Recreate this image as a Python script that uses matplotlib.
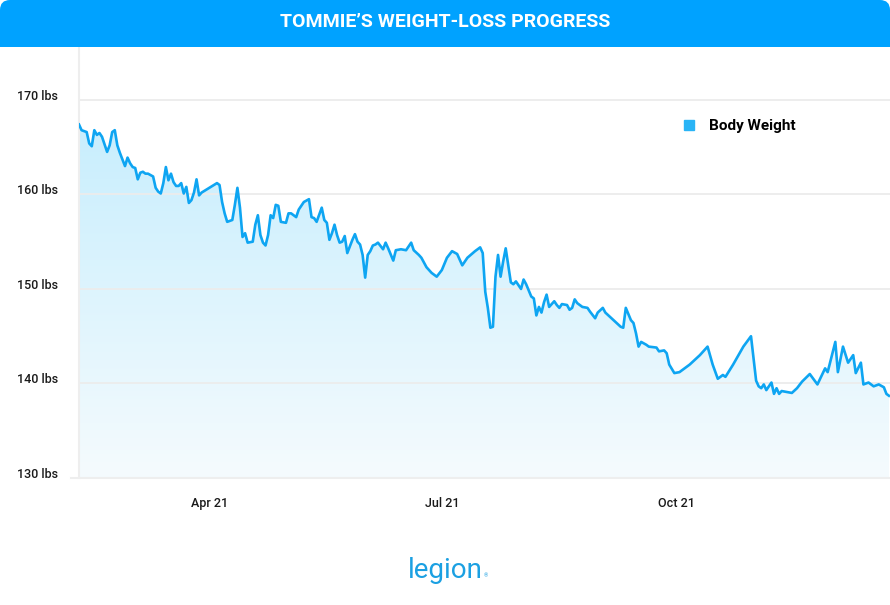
import datetime as dt
import numpy as np
import matplotlib
matplotlib.use("Agg")
import matplotlib.pyplot as plt
import matplotlib.dates as mdates
from matplotlib.patches import FancyBboxPatch, Rectangle
from matplotlib.colors import LinearSegmentedColormap
from matplotlib.lines import Line2D

title = "TOMMIE’S WEIGHT-LOSS PROGRESS"
series_name = "Body Weight"
start_day = dt.date(2021, 2, 9)

# days since start_day, weight in lbs
day_offsets = [
    0, 1, 3, 4, 5, 6, 7, 8, 9, 11, 12, 13, 14, 15, 16, 18, 19, 20, 21, 22,
    23, 24, 25, 26, 27, 29, 30, 31, 32, 33, 34, 35, 36, 37, 38, 39, 40, 41, 42, 43,
    44, 45, 46, 47, 48, 51, 54, 55, 56, 57, 58, 60, 61, 62, 63, 64, 65, 66, 68, 69,
    70, 71, 72, 73, 74, 75, 76, 77, 78, 79, 81, 82, 83, 85, 86, 88, 90, 91, 92, 93,
    95, 96, 97, 98, 99, 100, 101, 102, 103, 104, 105, 107, 108, 109, 110, 111, 112, 113, 114, 115,
    116, 117, 119, 120, 121, 123, 124, 126, 128, 130, 131, 133, 134, 136, 138, 140, 142, 144, 146, 148,
    150, 152, 155, 157, 158, 159, 160, 161, 162, 163, 164, 165, 166, 167, 169, 170, 171, 173, 174, 175,
    177, 178, 179, 180, 181, 182, 183, 184, 186, 187, 188, 189, 191, 192, 193, 194, 195, 197, 199, 200,
    202, 203, 205, 206, 208, 210, 212, 213, 214, 216, 217, 218, 219, 220, 222, 223, 226, 227, 229, 230,
    231, 233, 235, 239, 243, 246, 248, 250, 252, 253, 256, 260, 263, 265, 266, 267, 268, 269, 271, 272,
    273, 274, 275, 277, 279, 281, 283, 286, 289, 292, 293, 296, 297, 299, 301, 303, 304, 306, 307, 309,
    311, 313, 315, 316, 317,
]
weights = [
    167.4, 166.8, 166.6, 165.4, 165.1, 166.8, 166.3, 166.5, 166.1, 164.5, 165.2, 166.6, 166.8, 165.2, 164.4, 163.0, 163.9, 163.3, 162.9, 162.8,
    161.6, 162.3, 162.4, 162.2, 162.2, 161.9, 160.7, 160.3, 160.1, 161.2, 162.9, 161.5, 162.2, 161.3, 160.9, 160.9, 161.2, 160.1, 160.8, 159.1,
    159.4, 160.2, 161.6, 159.9, 160.2, 160.7, 161.2, 161.0, 159.2, 158.0, 157.1, 157.3, 158.9, 160.7, 158.6, 155.5, 155.9, 154.9, 155.0, 156.8,
    157.8, 155.7, 154.9, 154.6, 155.7, 157.8, 157.5, 158.9, 158.8, 157.1, 157.0, 158.0, 158.0, 157.6, 158.4, 159.2, 159.5, 157.6, 157.5, 157.1,
    158.6, 157.3, 157.0, 155.2, 155.9, 156.8, 155.7, 154.9, 155.0, 155.6, 153.8, 155.2, 155.8, 155.0, 154.7, 153.6, 151.2, 153.6, 154.0, 154.6,
    154.7, 154.9, 154.2, 154.9, 154.3, 153.0, 154.1, 154.2, 154.1, 154.9, 154.1, 153.6, 153.3, 152.3, 151.7, 151.3, 152.0, 153.3, 154.0, 153.7,
    152.5, 153.3, 154.0, 154.4, 153.8, 149.7, 148.0, 145.9, 146.0, 151.3, 153.6, 151.3, 152.9, 154.3, 150.7, 150.5, 150.8, 150.0, 151.0, 150.5,
    149.2, 149.0, 147.2, 148.1, 147.5, 148.6, 149.4, 148.1, 148.7, 148.3, 148.0, 148.4, 148.3, 147.8, 148.0, 148.9, 148.5, 148.1, 148.0, 147.6,
    146.9, 147.5, 148.0, 147.5, 147.0, 146.5, 146.0, 145.9, 148.0, 146.7, 146.4, 145.3, 143.9, 144.4, 144.1, 143.9, 143.8, 143.4, 143.5, 143.2,
    142.0, 141.1, 141.2, 142.0, 143.0, 143.9, 142.0, 140.5, 140.9, 140.7, 142.0, 143.9, 145.0, 140.3, 139.7, 139.5, 139.9, 139.3, 140.1, 138.9,
    139.5, 138.9, 139.2, 139.1, 139.0, 139.5, 140.2, 141.0, 139.9, 141.6, 141.2, 144.4, 141.2, 143.9, 142.2, 143.0, 141.1, 142.2, 139.9, 140.1,
    139.7, 139.9, 139.6, 138.9, 138.7,
]

y_ticks = [130, 140, 150, 160, 170]
y_labels = [f"{v} lbs" for v in y_ticks]
x_tick_dates = [dt.date(2021, 4, 1), dt.date(2021, 7, 1), dt.date(2021, 10, 1)]

dates = [start_day + dt.timedelta(days=d) for d in day_offsets]

BLUE = "#00a2ff"
LINE = "#0ea5f2"
W, H = 890, 605

plt.rcParams["font.family"] = ["Roboto", "DejaVu Sans"]
fig = plt.figure(figsize=(W / 100, H / 100), dpi=100)

# header bar, rounded only on top
fig.patches.append(FancyBboxPatch((0, 5.58), 8.9, 0.47, boxstyle="round,pad=0,rounding_size=0.1",
                                  transform=fig.dpi_scale_trans, fc=BLUE, ec="none"))
fig.patches.append(Rectangle((0, 5.58), 8.9, 0.2, transform=fig.dpi_scale_trans, fc=BLUE, ec="none"))
fig.text(0.5, 1 - 22 / H, title, color="white", fontsize=14, fontweight="bold",
         ha="center", va="center")

ax = fig.add_axes([79 / W, 127 / H, 811 / W, 431 / H])
x0 = mdates.date2num(start_day)
x_lo, x_hi = x0, x0 + 317.4
y_lo, y_hi = 130, 175.6

# gradient fill under the line
poly = ax.fill_between(dates, weights, y_lo, color="none", lw=0)
clip = poly.get_paths()[0]
fade = LinearSegmentedColormap.from_list("fade", ["#f5fbfe", "#c8eefd"])
img = ax.imshow(np.linspace(1, 0, 256).reshape(-1, 1), cmap=fade, vmin=0, vmax=1,
                aspect="auto", extent=[x_lo, x_hi, y_lo, max(weights)], origin="upper", zorder=1)
img.set_clip_path(clip, transform=ax.transData)

for v in y_ticks[1:]:
    ax.axhline(v, color="#ececec", lw=1.3, zorder=2)

ax.plot(dates, weights, color=LINE, lw=1.9, solid_joinstyle="round", zorder=3)

ax.set_xlim(x_lo, x_hi)
ax.set_ylim(y_lo, y_hi)

ax.set_yticks(y_ticks, y_labels)
ax.tick_params(axis="y", length=0, pad=62 * 0.72, labelsize=9, labelcolor="#1a1a1a")
for lbl in ax.get_yticklabels():
    lbl.set_horizontalalignment("left")
    lbl.set_verticalalignment("baseline")
    lbl.set_fontweight("medium")

ax.set_xticks(x_tick_dates)
ax.xaxis.set_major_formatter(mdates.DateFormatter("%b %y"))
ax.tick_params(axis="x", length=0, pad=14, labelsize=9, labelcolor="#1a1a1a")
for lbl in ax.get_xticklabels():
    lbl.set_fontweight("medium")

for s in ["top", "right", "bottom"]:
    ax.spines[s].set_visible(False)
ax.spines["left"].set_color("#eeeeee")
ax.spines["left"].set_linewidth(1.5)
fig.add_artist(Line2D([71 / W, 1], [127 / H, 127 / H], color="#eeeeee", lw=1.5))

ax.legend(handles=[Line2D([], [], marker="s", ls="", color="#29b4f6", markersize=6.5)],
          labels=[series_name], loc="center left", bbox_to_anchor=(683 / W, 1 - 126 / H),
          bbox_transform=fig.transFigure, frameon=False, borderpad=0, borderaxespad=0,
          handlelength=0.8, handletextpad=0.9, prop=dict(weight="bold", size=11))

# brand mark
fig.text(0.5, 1 - 570 / H, "legion", color="#1ba0e2", fontsize=20, ha="center", va="center")
fig.text(484 / W, 1 - 576 / H, "®", color="#1ba0e2", fontsize=4, ha="left", va="center")

fig.savefig("out.png", dpi=100)
